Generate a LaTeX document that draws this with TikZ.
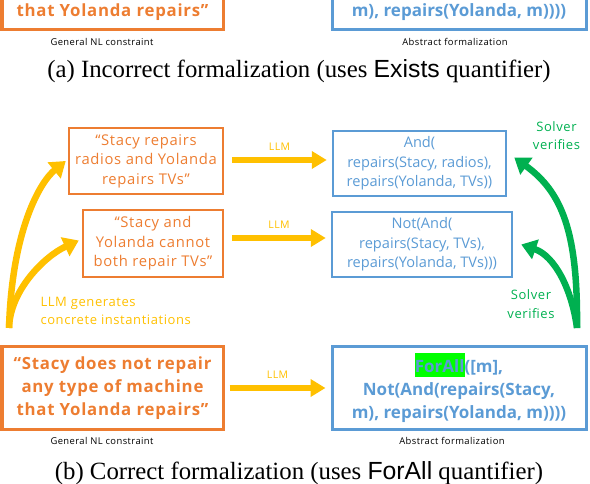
\documentclass[tikz,border=0pt]{standalone}
\usepackage{fontspec}
\setmainfont{Liberation Serif}
\newfontfamily\nlsans[LetterSpace=4.5]{Open Sans}
\newfontfamily\fmsans{Open Sans}
\newfontfamily\capsans{Liberation Sans}
\usetikzlibrary{arrows.meta,positioning}
\definecolor{nlorange}{HTML}{ED7D31}
\definecolor{fmblue}{HTML}{5B9BD5}
\definecolor{llmyellow}{HTML}{FFC000}
\definecolor{solvergreen}{HTML}{00B050}
\definecolor{hlgreen}{HTML}{00FF00}

\begin{document}
\begin{tikzpicture}[x=1pt, y=-1pt,
    nlbox/.style={draw=nlorange, line width=2.5pt, text=nlorange, align=center,
      font=\nlsans\fontsize{14.8}{19.5}\selectfont, inner sep=2pt},
    fmbox/.style={draw=fmblue, line width=2.5pt, text=fmblue, align=center,
      font=\fmsans\fontsize{14.6}{19.5}\selectfont, inner sep=2pt},
    nlmainbox/.style={line width=3pt, font=\nlsans\bfseries\fontsize{16.8}{23}\selectfont},
    fmmainbox/.style={line width=3pt, font=\fmsans\bfseries\fontsize{17}{23}\selectfont},
    tag/.style={font=\nlsans\fontsize{9.4}{10}\selectfont},
    caption/.style={font=\fontsize{24.8}{28}\selectfont},
    llm/.style={-{Triangle[length=15pt,width=17pt]}, line width=5.5pt, draw=llmyellow},
    llmtext/.style={text=llmyellow, font=\nlsans\fontsize{10.5}{12}\selectfont},
    gen/.style={-{Triangle[length=15pt,width=20pt]}, line width=6.5pt, draw=llmyellow},
    verify/.style={-{Triangle[length=15pt,width=20pt]}, line width=6.5pt, draw=solvergreen},
    note/.style={font=\nlsans\fontsize{13}{18.5}\selectfont}
  ]
  \useasboundingbox (0,0) rectangle (590,484);
  \clip (0,0) rectangle (590,484);

  % (a) cut off at the top
  \node[nlbox, nlmainbox, minimum width=221pt, text height=40pt, text depth=9pt,
    inner ysep=4pt, anchor=south] (nltop) at (112.5,31) {that Yolanda repairs”};
  \node[fmbox, fmmainbox, minimum width=254pt, text height=40pt, text depth=9pt,
    inner ysep=4pt, anchor=south] (fmtop) at (459,31) {m), repairs(Yolanda, m))))};
  \node[tag] (nltoptag) at (102,42) {General NL constraint};
  \node[tag] (fmtoptag) at (455,42) {Abstract formalization};
  \node[caption] (capa) at (299,71) {(a) Incorrect formalization (uses {\capsans Exists} quantifier)};

  % (b) instantiations
  \node[nlbox, minimum width=154pt, minimum height=66pt] (nl1) at (146,161)
    {“Stacy repairs\\radios and Yolanda\\repairs TVs”};
  \node[nlbox, minimum width=140pt, minimum height=67pt] (nl2) at (153,243.5)
    {“Stacy and\\Yolanda cannot\\both repair TVs”};
  \node[fmbox, minimum width=173pt, minimum height=65pt] (fm1) at (419.5,163.5)
    {And(\\repairs(Stacy, radios),\\repairs(Yolanda, TVs))};
  \node[fmbox, minimum width=180pt, minimum height=65pt] (fm2) at (422,244.5)
    {Not(And(\\repairs(Stacy, TVs),\\repairs(Yolanda, TVs)))};

  % general constraint
  \node[nlbox, nlmainbox, minimum width=221pt, minimum height=82pt] (nlmain) at (112.5,388)
    {“Stacy does not repair\\any type of machine\\that Yolanda repairs”};
  \node[fmbox, fmmainbox, minimum width=254pt, minimum height=82pt] (fmmain) at (459,388)
    {{\setlength{\fboxsep}{0pt}\colorbox{hlgreen}{\rule[-5pt]{0pt}{24pt}ForAll}}([m],\\Not(And(repairs(Stacy,\\m), repairs(Yolanda, m))))};
  \node[tag] (nltag) at (102,441) {General NL constraint};
  \node[tag] (fmtag) at (452,441) {Abstract formalization};
  \node[caption] (capb) at (299,473) {(b) Correct formalization (uses {\capsans ForAll} quantifier)};

  % LLM arrows
  \draw[llm] ([shift={(8,-1)}]nl1.east) -- node[llmtext, above=3pt] {LLM} ([shift={(-5,-1)}]fm1.west |- nl1.east);
  \draw[llm] ([shift={(8,-5.5)}]nl2.east) -- node[llmtext, above=3pt] {LLM} ([shift={(-5,-5.5)}]fm2.west |- nl2.east);
  \draw[llm] ([xshift=5]nlmain.east) -- node[llmtext, above=3pt] {LLM} ([xshift=-5]fmmain.west);

  % generation and verification
  \coordinate (gensrc) at (9,328);
  \coordinate (versrc) at (577,328);
  \draw[gen] (gensrc) .. controls (12,230) and (40,182) .. ([xshift=-2]nl1.west);
  \draw[gen] (gensrc) .. controls (10,290) and (45,256) .. ([shift={(-3,-3)}]nl2.west);
  \draw[verify] (versrc) .. controls (578,232) and (562,192) .. ([shift={(7,-6)}]fm1.east);
  \draw[verify] (versrc) .. controls (572,290) and (555,256) .. ([xshift=8]fm2.east);
  \node[note, text=llmyellow, align=left, anchor=west] (gennote) at (37,311)
    {LLM generates\\concrete instantiations};
  \node[note, text=solvergreen, align=center] (vernote1) at (556.5,135.5) {Solver\\verifies};
  \node[note, text=solvergreen, align=center] (vernote2) at (531,304) {Solver\\verifies};
\end{tikzpicture}
\end{document}
